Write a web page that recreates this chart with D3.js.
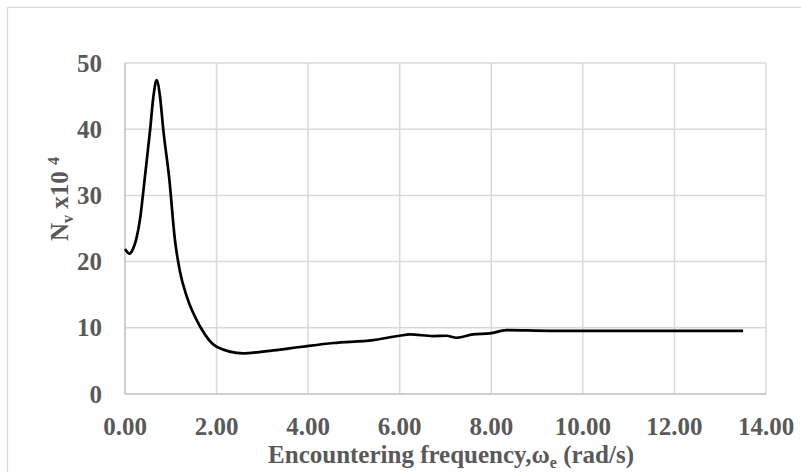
<!DOCTYPE html>
<html><head><meta charset="utf-8">
<script src="https://cdn.jsdelivr.net/npm/d3@7"></script>
<style>body{margin:0;background:#fff}svg{display:block}text{font-family:"Liberation Serif","Times New Roman",serif;font-weight:bold;fill:#595959}</style>
</head><body>
<svg id="c" width="801" height="472"></svg>
<script>
const omega = [0.00,0.10,0.18,0.25,0.33,0.43,0.55,0.62,0.69,0.765,0.835,0.97,1.09,1.20,1.35,1.64,2.00,2.58,3.24,3.82,4.55,5.42,6.00,6.22,6.73,7.02,7.24,7.60,7.97,8.33,9.28,10.50,12.00,13.50];
const nv    = [21.9,21.2,22.0,23.5,26.5,32.5,40.0,44.9,47.4,44.9,40.0,32.3,23.3,18.5,14.7,10.2,7.15,6.15,6.6,7.1,7.7,8.15,8.8,9.0,8.75,8.8,8.5,9.0,9.15,9.65,9.55,9.55,9.55,9.55];
const xTicks = [0,2,4,6,8,10,12,14];
const yTicks = [0,10,20,30,40,50];

const svg = d3.select("#c");
const L=125,R=766,T=63,B=394;
const x = d3.scaleLinear().domain([0,14]).range([L,R]);
const y = d3.scaleLinear().domain([0,50]).range([B,T]);

svg.append("rect").attr("x",7.5).attr("y",7.5).attr("width",800).attr("height",470)
  .attr("fill","#fff").attr("stroke","#d9d9d9").attr("stroke-width",1.2);

// gridlines
svg.append("g").selectAll("line").data(xTicks.slice(1)).join("line")
  .attr("x1",d=>x(d)).attr("x2",d=>x(d)).attr("y1",T).attr("y2",B)
  .attr("stroke","#d9d9d9").attr("stroke-width",1.5);
svg.append("g").selectAll("line").data(yTicks.slice(1)).join("line")
  .attr("x1",L).attr("x2",R).attr("y1",d=>y(d)).attr("y2",d=>y(d))
  .attr("stroke","#d9d9d9").attr("stroke-width",1.5);
// axis lines
svg.append("line").attr("x1",L).attr("x2",L).attr("y1",T).attr("y2",B).attr("stroke","#bfbfbf").attr("stroke-width",1.5);
svg.append("line").attr("x1",L).attr("x2",R).attr("y1",B).attr("y2",B).attr("stroke","#bfbfbf").attr("stroke-width",1.5);

// tick labels
svg.append("g").selectAll("text").data(xTicks).join("text")
  .attr("x",d=>x(d)).attr("y",435).attr("text-anchor","middle").attr("font-size",25)
  .text(d=>d.toFixed(2));
svg.append("g").selectAll("text").data(yTicks).join("text")
  .attr("x",102).attr("y",d=>y(d)+8.5).attr("text-anchor","end").attr("font-size",25)
  .text(d=>d);

// line
const pts = omega.map((w,i)=>[w,nv[i]]);
svg.append("path").datum(pts)
  .attr("d",d3.line().x(d=>x(d[0])).y(d=>y(d[1])).curve(d3.curveMonotoneX))
  .attr("fill","none").attr("stroke","#000").attr("stroke-width",2.7);

// x title
const xt = svg.append("text").attr("x",451).attr("y",463).attr("text-anchor","middle").attr("font-size",25);
xt.append("tspan").text("Encountering frequency,ω");
xt.append("tspan").attr("font-size",16).attr("dy",5).text("e");
xt.append("tspan").attr("dy",-5).text(" (rad/s)");

// y title
const yt = svg.append("text").attr("transform","translate(68,199) rotate(-90)").attr("text-anchor","middle").attr("font-size",25);
yt.append("tspan").text("N");
yt.append("tspan").attr("font-size",16).attr("dy",5).text("v");
yt.append("tspan").attr("dy",-5).text(" x10 ");
yt.append("tspan").attr("font-size",16).attr("dy",-9).text("4");
</script>
</body></html>
